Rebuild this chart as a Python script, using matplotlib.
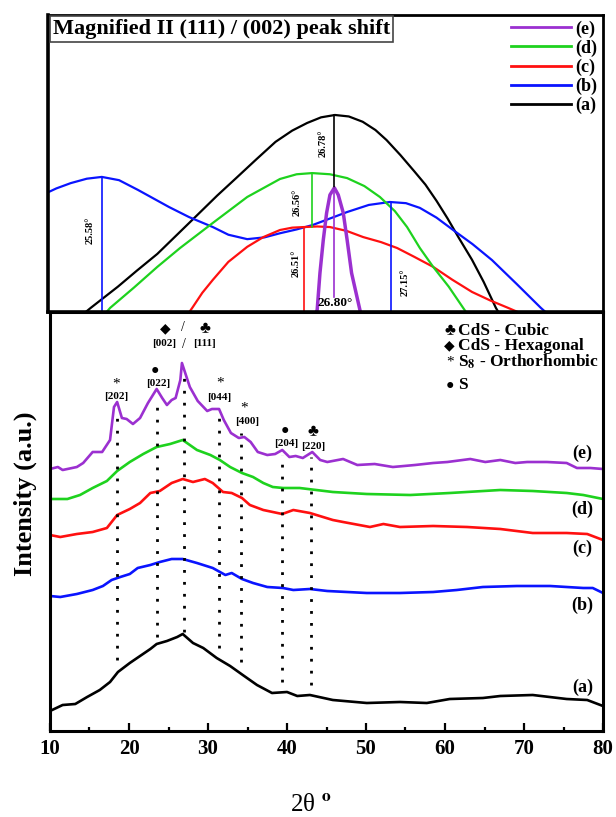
import matplotlib
matplotlib.use('Agg')
import matplotlib.pyplot as plt
from matplotlib.lines import Line2D

plt.rcParams['font.family'] = ['Liberation Serif', 'DejaVu Sans']
plt.rcParams['font.weight'] = 'bold'
plt.rcParams['mathtext.fontset'] = 'stix'

# ---------------- main XRD patterns (2theta, stacked intensity a.u.) ----------------
tt_a = [10.0, 11.6, 13.2, 14.7, 16.3, 17.6, 18.6, 20.1, 21.4, 22.7, 23.5, 24.8, 26.1, 26.8, 28.1, 29.4,
        31.1, 32.8, 34.4, 36.2, 38.1, 40.0, 41.3, 42.9, 45.8, 50.1, 54.3, 57.7, 60.6, 64.8, 67.0, 71.1,
        75.4, 78.0, 80.0]
int_a = [20, 26, 27, 34, 41, 49, 59, 68, 75, 82, 87, 90, 94, 97, 88, 83,
         73, 65, 56, 46, 38, 39, 35, 36, 31, 28, 29, 28, 32, 33, 35, 36,
         32, 31, 25]

tt_b = [10.0, 11.3, 13.4, 15.4, 16.7, 17.8, 18.9, 20.1, 21.1, 22.7, 23.9, 25.4, 26.8, 28.6, 30.6, 32.2,
        33.0, 34.3, 35.7, 37.5, 39.5, 40.8, 42.9, 45.1, 50.1, 54.3, 58.5, 61.5, 64.8, 69.1, 73.3, 77.5,
        78.7, 80.0]
int_b = [135, 134, 137, 141, 145, 151, 154, 157, 163, 166, 169, 172, 172, 168, 163, 156,
         158, 152, 148, 144, 143, 141, 142, 140, 138, 138, 139, 141, 144, 145, 145, 143,
         143, 138]

tt_c = [10.0, 11.3, 13.4, 15.4, 17.2, 18.5, 20.1, 21.4, 22.7, 23.9, 25.4, 26.8, 28.1, 29.6, 30.6, 31.9,
        33.0, 34.3, 35.3, 37.0, 39.4, 40.8, 42.9, 45.8, 47.1, 50.5, 52.2, 54.3, 58.5, 62.8, 67.0, 71.1,
        75.4, 78.0, 80.0]
int_c = [196, 194, 197, 199, 203, 216, 222, 228, 238, 240, 248, 252, 249, 252, 248, 239,
         238, 233, 226, 221, 217, 221, 218, 211, 209, 204, 207, 204, 205, 204, 202, 198,
         198, 197, 191]

tt_d = [10.0, 12.2, 13.8, 15.4, 17.2, 18.5, 20.1, 21.8, 23.5, 25.2, 26.8, 28.6, 30.3, 31.5, 32.8, 34.3,
        35.7, 37.0, 38.2, 39.5, 41.6, 45.8, 50.1, 55.6, 60.6, 67.0, 71.1, 75.4, 77.5, 80.0]
int_d = [232, 232, 236, 243, 250, 260, 269, 277, 284, 287, 291, 281, 276, 271, 264, 258,
         254, 248, 244, 243, 243, 239, 237, 236, 238, 241, 240, 238, 236, 232]

tt_e = [10.0, 11.0, 11.6, 13.4, 14.2, 15.4, 16.6, 17.6, 18.1, 18.5, 19.1, 19.7, 20.5, 21.4, 22.4, 23.5,
        24.2, 24.8, 25.4, 25.9, 26.5, 26.7, 27.2, 27.7, 28.7, 29.9, 30.5, 31.4, 32.0, 32.9, 33.9, 34.6,
        35.4, 36.3, 37.5, 38.5, 39.4, 40.3, 41.1, 42.0, 43.2, 44.2, 45.1, 47.1, 48.9, 51.1, 53.4, 56.2,
        58.5, 60.3, 63.2, 65.1, 67.0, 68.9, 70.4, 72.9, 75.4, 76.7, 78.4, 80.0]
int_e = [262, 264, 261, 264, 268, 279, 279, 291, 324, 329, 313, 312, 307, 313, 328, 342,
         333, 326, 331, 333, 351, 368, 356, 344, 330, 320, 322, 322, 311, 298, 293, 294,
         289, 279, 276, 277, 281, 274, 275, 273, 279, 271, 269, 272, 266, 267, 264, 266,
         268, 269, 272, 269, 271, 268, 269, 269, 268, 263, 263, 262]

# reflections marked with dotted guide lines
ref_pos = [18.5, 23.5, 26.9, 31.4, 34.2, 39.4, 43.1]
ref_top = [321, 326, 359, 316, 298, 276, 274]
ref_bot = [71, 94, 99, 83, 69, 49, 46]
ref_sym = ['*', '●', None, '*', '*', '●', '♣']
ref_hkl = ['[202]', '[022]', None, '[044]', '[400]', '[204]', '[220]']

# ---------------- magnified (111)/(002) region (arbitrary units) ----------------
mx_a = [5, 7.7, 12.6, 16, 19.7, 23.8, 26.8, 30.5, 33.9, 37.5, 41, 44, 46.7, 49.2, 51.7, 54.2, 56.7,
        59, 61, 63.5, 66, 68, 70, 72, 74, 76.4, 78.5, 80.7, 82.5]
my_a = [-3.5, 0.7, 7.9, 13.3, 19, 26.5, 32, 38.8, 44.7, 51, 57, 60.8, 63.4, 65.3, 66.1, 65.6, 63.8,
        61, 57.6, 52.5, 47, 42.5, 37, 31, 24.5, 17, 9.5, 0.7, -5]

mx_b = [-1, 1.5, 4.1, 7, 9.7, 12.8, 16.2, 19, 21.8, 25.4, 29.7, 32.5, 35.9, 39, 41.8, 44.8, 47.7,
        50.8, 53.9, 57.8, 61.6, 64.5, 67, 70, 73, 76.5, 80, 84.5, 88.8, 91]
my_b = [39, 41.2, 43, 44.5, 45.1, 44, 40.7, 37.8, 34.9, 31.5, 28.1, 25.5, 24, 24.6, 26, 27.3, 28.8,
        31, 33.2, 35.6, 36.6, 36.2, 34.6, 31.3, 27.1, 22.3, 16.9, 8.7, 0.7, -3]

mx_c = [25, 26.1, 27.8, 29.7, 32.5, 35.9, 38.8, 41.8, 44, 46.1, 48.5, 50.8, 53.8, 56.8, 60, 62.9,
        66, 69.4, 72.8, 76.4, 79.7, 82.9, 85]
my_c = [-2, 1, 5.8, 10.2, 16.3, 21.4, 24.7, 27.1, 27.9, 28.1, 28.3, 28.1, 26.8, 24.7, 23, 21,
        18, 14.6, 10.3, 6.1, 3.2, 0.7, -1]

mx_d = [9.5, 11.2, 15.5, 19.7, 23.8, 29.7, 35.9, 41.8, 44.8, 47.6, 50.8, 53.9, 57, 59.8, 62.5,
        64.7, 67, 69.4, 72.2, 74.8, 76.5]
my_d = [-3, 0.7, 7.6, 14.6, 21, 29.5, 38.3, 44.4, 46, 46.4, 46, 44.7, 42, 38.3, 33.5,
        28.1, 21, 14.6, 7.9, 0.7, -4]

mx_e = [48.1, 48.5, 49.0, 49.6, 50.2, 50.8, 51.6, 52.3, 53.2, 53.9, 54.7, 56.2, 56.4]
my_e = [-1.7, 0, 12.5, 23.7, 32.9, 39, 41.4, 39, 32.9, 23.7, 12.5, 0, -1.7]

mag_labels = ['26.78°', '26.56°', '25.58°', '26.51°', '27.15°']

purple = '#9B30D0'
green = '#1ED21E'
red = '#FF1010'
blue = '#0A14FF'


def sym_size(s):
    # marker glyphs of the reflection key
    return {'*': 11, '●': 10, '♣': 12, '◆': 10}[s]


fig = plt.figure(figsize=(6.16, 8.17), dpi=100)

# ---------------- bottom panel ----------------
ax = fig.add_axes([50 / 616, 1 - 731 / 817, 553 / 616, 419 / 817])
for tt, yy, c in [(tt_a, int_a, 'black'), (tt_b, int_b, blue), (tt_c, int_c, red),
                  (tt_d, int_d, green), (tt_e, int_e, purple)]:
    ax.plot(tt, yy, color=c, lw=1.9)

for p, t, b in zip(ref_pos, ref_top, ref_bot):
    ax.plot([p, p], [b, t], color='black', lw=2.0, linestyle=(0, (1, 3.3)))

sym_pos = [(18.4, 347), (23.3, 361), None, (31.5, 348), (34.6, 323), (39.7, 301), (43.3, 299)]
hkl_pos = [(18.4, 335), (23.7, 348), None, (31.4, 334), (34.9, 310), (39.9, 288), (43.3, 285)]
for s, h, sp, hp in zip(ref_sym, ref_hkl, sym_pos, hkl_pos):
    if s is None:
        continue
    ax.text(sp[0], sp[1], s, ha='center', va='center', fontsize=sym_size(s),
            fontweight='normal' if s == '*' else 'bold')
    ax.text(hp[0], hp[1], h, ha='center', va='center', fontsize=8)

# (002) / (111) double label over the main peak
ax.text(24.6, 402, '◆', ha='center', va='center', fontsize=sym_size('◆'))
ax.text(24.4, 388, '[002]', ha='center', va='center', fontsize=8)
ax.text(26.8, 404, '/', ha='center', va='center', fontsize=10, fontweight='normal')
ax.text(27.0, 387, '/', ha='center', va='center', fontsize=10, fontweight='normal')
ax.text(29.6, 402, '♣', ha='center', va='center', fontsize=sym_size('♣'))
ax.text(29.5, 388, '[111]', ha='center', va='center', fontsize=8)

# phase key
key_sym = ['♣', '◆', '*', '●']
key_txt = ['CdS - Cubic', 'CdS - Hexagonal', r'S$_\mathbf{8}$ - Orthorhombic', 'S']
key_y = [400, 385, 369, 346]
for s, t, yk in zip(key_sym, key_txt, key_y):
    ax.text(60.6, yk, s, ha='center', va='center', fontsize=sym_size(s),
            fontweight='normal' if s == '*' else 'bold')
    ax.text(61.6, yk, t, ha='left', va='center', fontsize=12.5)

for lab, yl in zip(['(e)', '(d)', '(c)', '(b)', '(a)'], [278, 222, 183, 126, 44]):
    ax.text(77.4, yl, lab, ha='center', va='center', fontsize=13)

ax.set_xlim(10, 80)
ax.set_ylim(0, 419)
ax.set_xticks(range(10, 81, 10))
ax.set_xticks(range(15, 80, 10), minor=True)
ax.set_yticks([])
ax.tick_params(axis='x', which='major', direction='in', length=6, width=1.6, labelsize=15, pad=6)
ax.tick_params(axis='x', which='minor', direction='in', length=3, width=1.6)
for lab in ax.get_xticklabels():
    lab.set_fontweight('bold')
for s in ax.spines.values():
    s.set_linewidth(2.2)

fig.text(25 / 616, 1 - 494 / 817, 'Intensity (a.u.)', rotation=90, ha='center', va='center',
         fontsize=19)
fig.text(311 / 616, 1 - 805 / 817, r'2θ $^{\mathrm{o}}$', ha='center', va='center',
         fontsize=18, fontweight='normal')

# ---------------- top panel (magnified peak) ----------------
ax2 = fig.add_axes([48 / 616, 1 - 312 / 817, 555 / 616, 297 / 817])
ax2.plot(mx_a, my_a, color='black', lw=1.6)
ax2.plot(mx_b, my_b, color=blue, lw=1.6)
ax2.plot(mx_c, my_c, color=red, lw=1.6)
ax2.plot(mx_d, my_d, color=green, lw=1.6)
ax2.plot(mx_e, my_e, color=purple, lw=2.5)

# peak position markers
ax2.plot([51.6, 51.6], [41.4, 66.1], color='black', lw=1.2)
ax2.plot([51.6, 51.6], [4.4, 41.4], color=purple, lw=1.2)
ax2.plot([47.6, 47.6], [28.0, 46.4], color=green, lw=1.2)
ax2.plot([46.1, 46.1], [-1, 28.1], color=red, lw=1.2)
ax2.plot([9.7, 9.7], [-1, 45.1], color=blue, lw=1.2)
ax2.plot([61.8, 61.8], [-1, 36.6], color=blue, lw=1.2)

ax2.text(49.5, 56.6, mag_labels[0], rotation=90, ha='center', va='center', fontsize=7.5)
ax2.text(44.9, 36.3, mag_labels[1], rotation=90, ha='center', va='center', fontsize=7.5)
ax2.text(7.6, 27.0, mag_labels[2], rotation=90, ha='center', va='center', fontsize=7.5)
ax2.text(44.7, 15.9, mag_labels[3], rotation=90, ha='center', va='center', fontsize=7.5)
ax2.text(64.3, 9.5, mag_labels[4], rotation=90, ha='center', va='center', fontsize=7.5)
ax2.text(51.7, 2.4, '26.80°', ha='center', va='center', fontsize=9.5)

ax2.text(0.009, 0.953, 'Magnified II (111) / (002) peak shift', transform=ax2.transAxes,
         ha='left', va='center', fontsize=16,
         bbox=dict(boxstyle='square,pad=0.12', fc='white', ec='#444444', lw=1.2))

handles = [Line2D([], [], color=c, lw=2) for c in [purple, green, red, blue, 'black']]
ax2.legend(handles, ['(e)', '(d)', '(c)', '(b)', '(a)'], loc='upper right', frameon=False,
           fontsize=13, handlelength=3.3, handletextpad=0.25, labelspacing=0.1,
           borderaxespad=0.1, borderpad=0.2)

ax2.set_xlim(0, 100)
ax2.set_ylim(-0.7, 100)
ax2.set_xticks([])
ax2.set_yticks([])
ax2.spines['left'].set_linewidth(2.6)
ax2.spines['top'].set_linewidth(2.0)
ax2.spines['right'].set_linewidth(2.0)
ax2.spines['bottom'].set_linewidth(2.6)

fig.savefig('out.png', dpi=100)
